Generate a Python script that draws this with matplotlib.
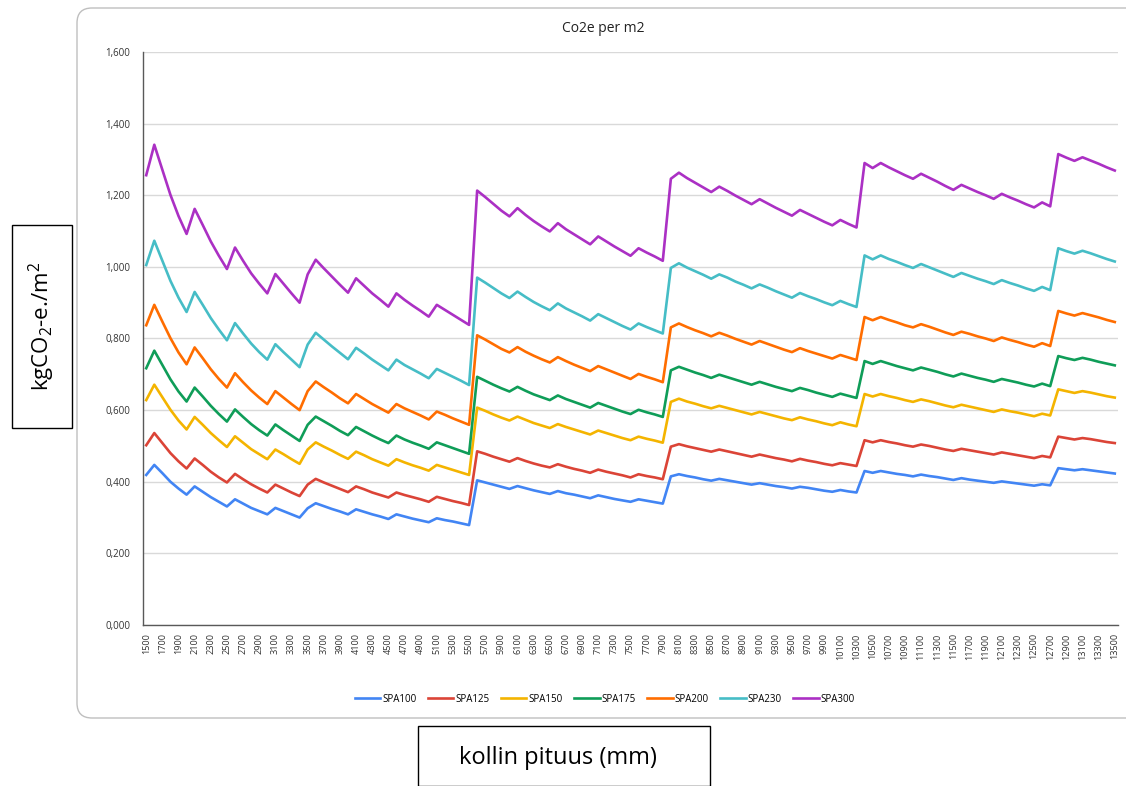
import numpy as np
import matplotlib
matplotlib.use("Agg")
import matplotlib.pyplot as plt
from matplotlib.patches import FancyBboxPatch, Rectangle
from matplotlib.ticker import FuncFormatter

plt.rcParams['font.family'] = ['Open Sans', 'DejaVu Sans']
plt.rcParams['mathtext.default'] = 'regular'

# kollin pituus (mm), one value every 100 mm
lengths = list(range(1500, 13600, 100))

spa100 = [0.419, 0.447, 0.424, 0.400, 0.381, 0.364, 0.387, 0.372, 0.357, 0.344, 0.331, 0.351, 0.339, 0.327, 0.318, 0.309, 0.327, 0.318, 0.309, 0.300,
          0.326, 0.340, 0.332, 0.324, 0.317, 0.309, 0.323, 0.316, 0.309, 0.303, 0.296, 0.309, 0.303, 0.297, 0.292, 0.287, 0.298, 0.293, 0.289, 0.284, 0.279,
          0.404, 0.398, 0.392, 0.386, 0.380, 0.388, 0.382, 0.376, 0.371, 0.366, 0.374, 0.368, 0.364, 0.359, 0.354, 0.362, 0.357, 0.352, 0.348, 0.344, 0.351, 0.347, 0.343, 0.339,
          0.415, 0.421, 0.416, 0.412, 0.407, 0.403, 0.408, 0.404, 0.400, 0.396, 0.392, 0.396, 0.392, 0.388, 0.385, 0.381, 0.386, 0.383, 0.379, 0.375, 0.372, 0.377, 0.373, 0.370,
          0.430, 0.425, 0.430, 0.426, 0.422, 0.419, 0.415, 0.420, 0.416, 0.413, 0.409, 0.405, 0.410, 0.406, 0.403, 0.400, 0.397, 0.401, 0.398, 0.395, 0.392, 0.389, 0.393, 0.390,
          0.438, 0.435, 0.432, 0.435, 0.432, 0.429, 0.426, 0.423]

spa125 = [0.502, 0.536, 0.508, 0.480, 0.457, 0.437, 0.465, 0.447, 0.428, 0.412, 0.398, 0.422, 0.407, 0.393, 0.381, 0.370, 0.392, 0.381, 0.370, 0.360,
          0.392, 0.408, 0.398, 0.389, 0.380, 0.371, 0.387, 0.379, 0.370, 0.363, 0.356, 0.370, 0.363, 0.357, 0.351, 0.344, 0.358, 0.352, 0.346, 0.341, 0.335,
          0.485, 0.478, 0.470, 0.463, 0.456, 0.466, 0.458, 0.451, 0.445, 0.440, 0.449, 0.442, 0.436, 0.431, 0.425, 0.434, 0.428, 0.423, 0.418, 0.412, 0.421, 0.416, 0.412, 0.407,
          0.498, 0.505, 0.499, 0.494, 0.489, 0.484, 0.490, 0.485, 0.480, 0.475, 0.470, 0.476, 0.471, 0.466, 0.462, 0.457, 0.464, 0.459, 0.455, 0.450, 0.446, 0.452, 0.448, 0.444,
          0.516, 0.510, 0.516, 0.511, 0.507, 0.502, 0.498, 0.504, 0.500, 0.495, 0.490, 0.486, 0.492, 0.488, 0.484, 0.480, 0.476, 0.482, 0.478, 0.474, 0.470, 0.466, 0.472, 0.468,
          0.526, 0.522, 0.518, 0.522, 0.519, 0.515, 0.511, 0.508]

spa150 = [0.628, 0.671, 0.636, 0.601, 0.571, 0.546, 0.581, 0.559, 0.536, 0.516, 0.497, 0.527, 0.509, 0.491, 0.477, 0.463, 0.490, 0.477, 0.463, 0.450,
          0.490, 0.510, 0.498, 0.487, 0.475, 0.464, 0.484, 0.474, 0.463, 0.454, 0.445, 0.463, 0.454, 0.446, 0.439, 0.431, 0.447, 0.440, 0.433, 0.426, 0.419,
          0.607, 0.598, 0.588, 0.579, 0.571, 0.582, 0.573, 0.564, 0.557, 0.550, 0.561, 0.553, 0.546, 0.539, 0.532, 0.543, 0.536, 0.529, 0.522, 0.516, 0.526, 0.520, 0.515, 0.509,
          0.623, 0.632, 0.624, 0.618, 0.611, 0.605, 0.612, 0.606, 0.600, 0.594, 0.588, 0.595, 0.589, 0.583, 0.577, 0.572, 0.580, 0.574, 0.569, 0.563, 0.558, 0.566, 0.560, 0.555,
          0.645, 0.638, 0.645, 0.639, 0.634, 0.628, 0.623, 0.630, 0.625, 0.619, 0.613, 0.608, 0.615, 0.610, 0.605, 0.600, 0.595, 0.602, 0.597, 0.593, 0.588, 0.583, 0.590, 0.585,
          0.658, 0.653, 0.648, 0.653, 0.649, 0.644, 0.639, 0.635]

spa175 = [0.717, 0.766, 0.726, 0.686, 0.652, 0.624, 0.663, 0.638, 0.612, 0.589, 0.568, 0.602, 0.581, 0.561, 0.544, 0.529, 0.560, 0.544, 0.529, 0.514,
          0.559, 0.582, 0.569, 0.556, 0.542, 0.530, 0.553, 0.541, 0.529, 0.518, 0.508, 0.529, 0.518, 0.509, 0.501, 0.492, 0.510, 0.502, 0.494, 0.486, 0.478,
          0.693, 0.682, 0.671, 0.661, 0.652, 0.665, 0.654, 0.644, 0.636, 0.628, 0.641, 0.631, 0.623, 0.615, 0.607, 0.620, 0.612, 0.604, 0.596, 0.589, 0.601, 0.594, 0.588, 0.581,
          0.711, 0.721, 0.713, 0.705, 0.698, 0.690, 0.699, 0.692, 0.685, 0.678, 0.671, 0.679, 0.672, 0.665, 0.659, 0.653, 0.662, 0.656, 0.649, 0.643, 0.637, 0.646, 0.640, 0.634,
          0.737, 0.729, 0.737, 0.730, 0.723, 0.717, 0.711, 0.719, 0.713, 0.707, 0.700, 0.694, 0.702, 0.696, 0.690, 0.685, 0.679, 0.687, 0.682, 0.677, 0.671, 0.666, 0.674, 0.667,
          0.751, 0.745, 0.740, 0.746, 0.741, 0.735, 0.730, 0.725]

spa200 = [0.837, 0.894, 0.847, 0.801, 0.761, 0.728, 0.775, 0.745, 0.714, 0.687, 0.663, 0.703, 0.678, 0.655, 0.635, 0.617, 0.653, 0.635, 0.617, 0.600,
          0.653, 0.680, 0.664, 0.649, 0.633, 0.619, 0.645, 0.631, 0.617, 0.605, 0.593, 0.617, 0.605, 0.595, 0.585, 0.574, 0.596, 0.587, 0.577, 0.568, 0.559,
          0.809, 0.797, 0.784, 0.771, 0.761, 0.776, 0.763, 0.752, 0.742, 0.733, 0.748, 0.737, 0.727, 0.718, 0.709, 0.723, 0.714, 0.705, 0.696, 0.687, 0.701, 0.693, 0.686, 0.678,
          0.831, 0.842, 0.832, 0.823, 0.815, 0.806, 0.816, 0.808, 0.799, 0.791, 0.783, 0.793, 0.785, 0.777, 0.769, 0.762, 0.773, 0.765, 0.758, 0.751, 0.744, 0.754, 0.747, 0.740,
          0.860, 0.851, 0.860, 0.852, 0.845, 0.837, 0.831, 0.840, 0.833, 0.825, 0.817, 0.810, 0.819, 0.813, 0.806, 0.800, 0.793, 0.803, 0.796, 0.790, 0.783, 0.777, 0.787, 0.779,
          0.877, 0.870, 0.864, 0.871, 0.865, 0.859, 0.852, 0.846]

spa230 = [1.005, 1.073, 1.017, 0.961, 0.914, 0.874, 0.930, 0.894, 0.857, 0.825, 0.795, 0.843, 0.814, 0.786, 0.762, 0.741, 0.784, 0.762, 0.741, 0.720,
          0.783, 0.816, 0.797, 0.778, 0.760, 0.742, 0.774, 0.758, 0.741, 0.726, 0.711, 0.741, 0.726, 0.714, 0.702, 0.689, 0.715, 0.704, 0.693, 0.682, 0.670,
          0.970, 0.956, 0.941, 0.926, 0.913, 0.931, 0.916, 0.902, 0.890, 0.879, 0.898, 0.884, 0.873, 0.862, 0.850, 0.868, 0.857, 0.846, 0.835, 0.825, 0.842, 0.832, 0.823, 0.814,
          0.997, 1.010, 0.998, 0.988, 0.978, 0.967, 0.979, 0.970, 0.959, 0.950, 0.940, 0.951, 0.942, 0.932, 0.923, 0.914, 0.927, 0.918, 0.910, 0.901, 0.893, 0.905, 0.896, 0.888,
          1.032, 1.021, 1.032, 1.022, 1.014, 1.005, 0.997, 1.008, 0.999, 0.990, 0.981, 0.972, 0.983, 0.975, 0.967, 0.960, 0.952, 0.963, 0.955, 0.948, 0.940, 0.933, 0.944, 0.935,
          1.052, 1.044, 1.037, 1.045, 1.038, 1.030, 1.022, 1.015]

spa300 = [1.256, 1.341, 1.271, 1.201, 1.142, 1.092, 1.162, 1.117, 1.071, 1.031, 0.994, 1.054, 1.017, 0.982, 0.953, 0.926, 0.980, 0.953, 0.926, 0.900,
          0.979, 1.020, 0.996, 0.973, 0.950, 0.928, 0.968, 0.947, 0.926, 0.908, 0.889, 0.926, 0.908, 0.892, 0.877, 0.861, 0.894, 0.880, 0.866, 0.852, 0.838,
          1.213, 1.195, 1.176, 1.157, 1.141, 1.164, 1.145, 1.128, 1.113, 1.099, 1.122, 1.105, 1.091, 1.077, 1.063, 1.085, 1.071, 1.057, 1.044, 1.031, 1.052, 1.040, 1.029, 1.017,
          1.246, 1.263, 1.248, 1.235, 1.222, 1.209, 1.224, 1.212, 1.199, 1.187, 1.175, 1.189, 1.177, 1.165, 1.154, 1.143, 1.159, 1.148, 1.137, 1.126, 1.116, 1.131, 1.120, 1.110,
          1.290, 1.276, 1.290, 1.278, 1.267, 1.256, 1.246, 1.260, 1.249, 1.238, 1.226, 1.215, 1.229, 1.219, 1.209, 1.200, 1.190, 1.204, 1.194, 1.185, 1.175, 1.166, 1.180, 1.169,
          1.315, 1.305, 1.296, 1.306, 1.297, 1.288, 1.278, 1.269]

names = ['SPA100', 'SPA125', 'SPA150', 'SPA175', 'SPA200', 'SPA230', 'SPA300']
series = [spa100, spa125, spa150, spa175, spa200, spa230, spa300]
colors = ['#4285f4', '#db4437', '#f4b400', '#0f9d58', '#ff6d00', '#46bdc6', '#ab30c4']

W, H = 1126, 786
fig = plt.figure(figsize=(W / 100, H / 100), dpi=100)

# rounded chart frame (in inches so the corners stay round)
frame = FancyBboxPatch((0.77, 0.68), 10.65, 7.10, boxstyle="round,pad=0,rounding_size=0.15",
                       transform=fig.dpi_scale_trans, facecolor='white', edgecolor='#bfbfbf',
                       linewidth=1.0, zorder=-5)
fig.patches.append(frame)

ax = fig.add_axes([143 / W, 1 - 625 / H, (1118 - 143) / W, (625 - 52) / H])
ax.set_zorder(2)
ax.set_facecolor('none')

for name, vals, c in zip(names, series, colors):
    ax.plot(lengths, vals, color=c, linewidth=1.9, label=name, solid_joinstyle='round')

ax.set_ylim(0, 1.6)
ax.set_yticks(np.arange(0, 1.61, 0.2))
ax.yaxis.set_major_formatter(FuncFormatter(lambda v, p: f"{v:.3f}".replace('.', ',')))
ax.set_xlim(lengths[0] - 40, lengths[-1] + 40)
ax.set_xticks(lengths[::2])
ax.set_xticklabels([str(v) for v in lengths[::2]], rotation=90, fontsize=6.6, color='#333333')
ax.tick_params(axis='y', length=0, labelsize=7, labelcolor='#333333', pad=9)
ax.tick_params(axis='x', length=0, pad=6)
ax.grid(axis='y', color='#d9d9d9', linewidth=1.0)
ax.set_axisbelow(True)
for s in ['top', 'right']:
    ax.spines[s].set_visible(False)
ax.spines['left'].set_color('#595959')
ax.spines['bottom'].set_color('#595959')
ax.spines['left'].set_linewidth(1.0)
ax.spines['bottom'].set_linewidth(1.0)

fig.text(603 / W, 1 - 28 / H, 'Co2e per m2', ha='center', va='center', fontsize=10, color='#222222')

fig.legend(loc='center', bbox_to_anchor=(605 / W, 1 - 699 / H), ncol=7, frameon=False,
           fontsize=7, handlelength=2.6, handletextpad=0.2, columnspacing=1.2)

# outside label boxes
fig.patches.append(Rectangle((12 / W, 1 - 428 / H), 60 / W, 203 / H, transform=fig.transFigure,
                             facecolor='white', edgecolor='black', linewidth=1.0))
fig.text(42 / W, 1 - 326 / H, 'kgCO$_2$-e./m$^2$', rotation=90, ha='center', va='center', fontsize=16)

fig.patches.append(Rectangle((418 / W, 0), 292 / W, 60 / H, transform=fig.transFigure,
                             facecolor='white', edgecolor='black', linewidth=1.0, clip_on=False))
fig.text(558 / W, 1 - 758 / H, 'kollin pituus (mm)', ha='center', va='center', fontsize=17)

fig.savefig('out.png', dpi=100)
